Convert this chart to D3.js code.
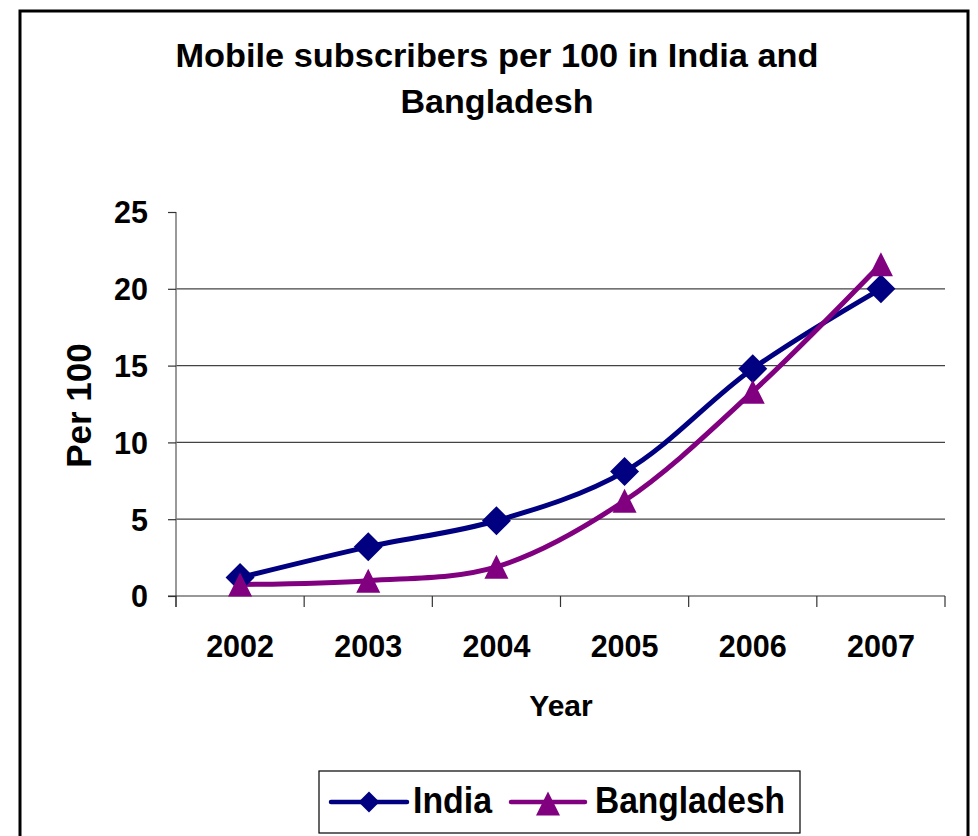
<!DOCTYPE html>
<html><head><meta charset="utf-8">
<script src="https://cdn.jsdelivr.net/npm/d3@7"></script>
<style>body{margin:0;background:#fff;} text{font-family:"Liberation Sans",Arial,sans-serif;font-weight:bold;}</style>
</head><body>
<svg id="chart" width="978" height="836"></svg>
<script>
const years = ["2002","2003","2004","2005","2006","2007"];
const india = [1.2, 3.2, 4.9, 8.1, 14.8, 20.0];
const bangladesh = [0.75, 1.0, 1.9, 6.2, 13.3, 21.6];
const yTicks = [0,5,10,15,20,25];
const titleLines = ["Mobile subscribers per 100 in India and","Bangladesh"];

(function(){
const svg = d3.select("#chart");
svg.append("rect").attr("x",20).attr("y",11).attr("width",948).attr("height",840)
  .attr("fill","#fff").attr("stroke","#000").attr("stroke-width",3);

const pL=176, pR=945, pT=212, pB=596;
const x = d3.scaleBand().domain(years).range([pL,pR]);
const y = d3.scaleLinear().domain([0,25]).range([pB,pT]);

// title
svg.append("text").attr("x",497).attr("y",67).attr("text-anchor","middle").attr("font-size",33)
  .attr("textLength",643).attr("lengthAdjust","spacingAndGlyphs").text(titleLines[0]);
svg.append("text").attr("x",497).attr("y",113).attr("text-anchor","middle").attr("font-size",33)
  .attr("textLength",193).attr("lengthAdjust","spacingAndGlyphs").text(titleLines[1]);

// gridlines
svg.append("g").selectAll("line").data(yTicks.filter(d=>d>0&&d<25)).join("line")
  .attr("x1",pL).attr("x2",pR).attr("y1",d=>y(d)).attr("y2",d=>y(d))
  .attr("stroke","#444").attr("stroke-width",1.2);

// y axis
const yAxis = svg.append("g").attr("transform",`translate(${pL},0)`)
  .call(d3.axisLeft(y).tickValues(yTicks).tickSize(8).tickPadding(20));
yAxis.select(".domain").attr("stroke","#777").attr("stroke-width",1.5).attr("d",`M0,${pT}V${pB+11}`);
yAxis.selectAll(".tick line").attr("stroke","#333").attr("stroke-width",1.2);
yAxis.selectAll("text").attr("font-size",30.5).attr("fill","#000").attr("dy","0.36em");

// x axis
const xAxis = svg.append("g").attr("transform",`translate(0,${pB})`)
  .call(d3.axisBottom(x).tickSize(0).tickPadding(0));
xAxis.select(".domain").attr("stroke","#333").attr("stroke-width",1.2).attr("d",`M${pL-8},0H${pR}`);
xAxis.selectAll("text").attr("font-size",30.5).attr("fill","#000").attr("y",61).attr("dy",null);
svg.append("g").selectAll("line").data(d3.range(years.length+1)).join("line")
  .attr("x1",i=>pL+i*x.bandwidth()).attr("x2",i=>pL+i*x.bandwidth())
  .attr("y1",pB).attr("y2",pB+11).attr("stroke","#333").attr("stroke-width",1.2);

// axis titles
svg.append("text").attr("x",561).attr("y",716).attr("text-anchor","middle").attr("font-size",30).text("Year");
svg.append("text").attr("transform","translate(91,405.5) rotate(-90)").attr("text-anchor","middle").attr("font-size",35).text("Per 100");

const cx = d => x(d)+x.bandwidth()/2;
const line = d3.line().x(d=>cx(d.year)).y(d=>y(d.v)).curve(d3.curveCatmullRom.alpha(0.5));
const series = [
  {name:"India", vals:india, color:"#000080"},
  {name:"Bangladesh", vals:bangladesh, color:"#800080"}
];
series.forEach(s=>{
  const pts = years.map((yr,i)=>({year:yr,v:s.vals[i]}));
  svg.append("path").datum(pts).attr("d",line).attr("fill","none")
    .attr("stroke",s.color).attr("stroke-width",5).attr("stroke-linejoin","round");
});
const diamond = (a,b,r)=>`M${a},${b-r}L${a+r},${b}L${a},${b+r}L${a-r},${b}Z`;
const tri = (a,b,r)=>`M${a},${b-r}L${a+r},${b+r}L${a-r},${b+r}Z`;
series.forEach((s,si)=>{
  svg.append("g").selectAll("path").data(years.map((yr,i)=>({year:yr,v:s.vals[i]}))).join("path")
    .attr("d",d=> si===0 ? diamond(cx(d.year),y(d.v),14.5) : tri(cx(d.year),y(d.v),12))
    .attr("fill",s.color);
});

// legend
const lg = svg.append("g");
lg.append("rect").attr("x",319).attr("y",771).attr("width",481).attr("height",62)
  .attr("fill","#fff").attr("stroke","#000").attr("stroke-width",1.2);
const legItems = [
  {s:series[0], x1:331, x2:407, tx:413, w:79},
  {s:series[1], x1:511, x2:585, tx:595, w:190}
];
legItems.forEach((it,i)=>{
  const ly=802;
  lg.append("line").attr("x1",it.x1).attr("x2",it.x2).attr("y1",ly).attr("y2",ly)
    .attr("stroke",it.s.color).attr("stroke-width",4.5).attr("stroke-linecap","round");
  const mx=(it.x1+it.x2)/2;
  lg.append("path").attr("d", i===0?diamond(mx,ly,10.5):tri(mx,ly+1.5,12)).attr("fill",it.s.color);
  lg.append("text").attr("x",it.tx).attr("y",813).attr("font-size",36)
    .attr("textLength",it.w).attr("lengthAdjust","spacingAndGlyphs").text(it.s.name);
});
})();
</script>
</body></html>
